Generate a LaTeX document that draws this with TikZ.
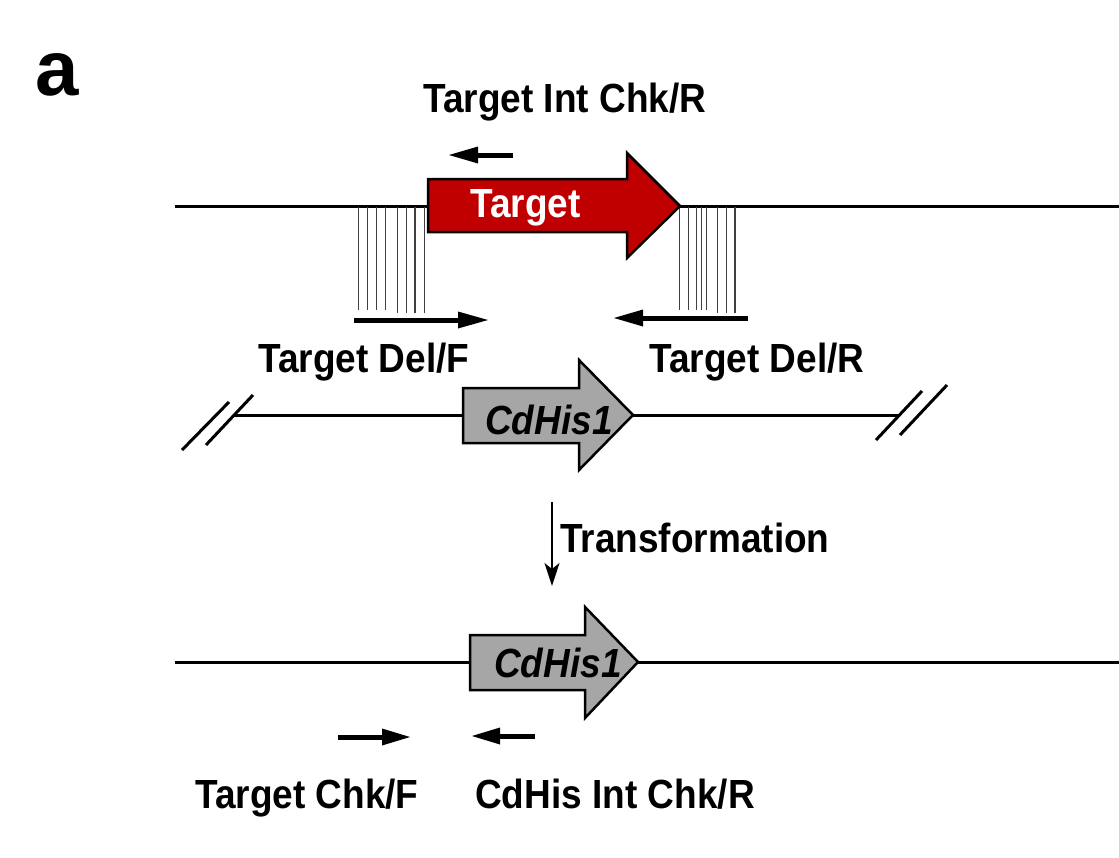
\documentclass[tikz,border=0pt]{standalone}
\usepackage{fontspec}
\setmainfont{Liberation Sans}
\usetikzlibrary{arrows.meta}
\definecolor{tred}{RGB}{192,0,0}
\definecolor{ggray}{RGB}{166,166,166}
\newcommand\tallt[1]{\scalebox{1}[1.1]{#1}}
\begin{document}
\begin{tikzpicture}[x=1pt,y=-1pt,
  lbl/.style={anchor=base west,inner sep=0pt,font=\bfseries\fontsize{37}{40}\selectfont},
  genelbl/.style={anchor=base west,inner sep=0pt,font=\bfseries\itshape\fontsize{37}{40}\selectfont},
  backbone/.style={line width=3pt},
  genebox/.style={line width=2.5pt,line join=miter},
  hatch/.style={line width=1.1pt,black!75},
  slash/.style={line width=3pt},
  primerline/.style={line width=5pt},
  primerhead/.style={fill=black,draw=none}]
\useasboundingbox (0,0) rectangle (1119,857);

% panel letter
\node[anchor=base west,inner sep=0pt,font=\bfseries\fontsize{78}{80}\selectfont] (panel) at (35,95) {a};

% ---- top: target locus ----
\coordinate (tl) at (175,206);
\coordinate (tr) at (1119,206);
\draw[backbone] (tl) -- (tr);
% homology hatch left
\foreach \x in {358.3,367.3,376.7,385.7} \draw[hatch] (\x,207) -- (\x,310);
\foreach \x in {397.7,406.3,415,424.3} \draw[hatch] (\x,207) -- (\x,313);
% homology hatch right
\foreach \x in {679.3,688.3,696.7,701.7,706.7} \draw[hatch] (\x,207) -- (\x,310);
\foreach \x in {717.7,726.7,735} \draw[hatch] (\x,207) -- (\x,313);
% red target arrow
\draw[genebox,fill=tred] (428,179) -- (627,179) -- (627,153) -- (680,206) -- (627,258) -- (627,232) -- (428,232) -- cycle;
\node[lbl,text=white] (target) at (470,217) {\tallt{Target}};

% primers top
\coordinate (ir1) at (513,155); \coordinate (ir2) at (478,155);
\draw[primerline] (ir1) -- (ir2);
\fill[primerhead] (478,146.5) -- (449,155) -- (478,163.5) -- cycle;
\coordinate (df1) at (354,320); \coordinate (df2) at (459,320);
\draw[primerline] (df1) -- (df2);
\fill[primerhead] (458,311.5) -- (488,320) -- (458,328.5) -- cycle;
\coordinate (dr1) at (748,318); \coordinate (dr2) at (642,318);
\draw[primerline] (dr1) -- (dr2);
\fill[primerhead] (643,309.5) -- (614,318) -- (643,326.5) -- cycle;

\node[lbl] (tIntR) at (423,112) {\tallt{Target Int Chk/R}};
\node[lbl] (tDelF) at (258,372) {\tallt{Target Del/F}};
\node[lbl] (tDelR) at (649,372) {\tallt{Target Del/R}};

% ---- middle: cassette ----
\coordinate (ml) at (234,415);
\coordinate (mr) at (900,415);
\draw[backbone] (ml) -- (mr);
\draw[slash] (182,450) -- (229,402);
\draw[slash] (206,445) -- (253,395);
\draw[slash] (876,440) -- (922,391);
\draw[slash] (900,435) -- (947,385);
\draw[genebox,fill=ggray] (463,388) -- (579,388) -- (579,360) -- (633,415) -- (579,470) -- (579,443) -- (463,443) -- cycle;
\node[genelbl] (his1) at (485,434) {\tallt{CdHis1}};

% transformation arrow
\coordinate (ta) at (552,502);
\coordinate (tb) at (552,586);
\draw[line width=1.5pt,-{Stealth[length=23pt,width=15pt,inset=6pt]}] (ta) -- (tb);
\node[lbl] (tTrans) at (560,552) {\tallt{Transformation}};

% ---- bottom: result ----
\coordinate (bl) at (175,662);
\coordinate (br) at (1119,662);
\draw[backbone] (bl) -- (br);
\draw[genebox,fill=ggray] (470,635) -- (585,635) -- (585,607) -- (638,662) -- (585,718) -- (585,690) -- (470,690) -- cycle;
\node[genelbl] (his2) at (494,677) {\tallt{CdHis1}};

\coordinate (cf1) at (338,737); \coordinate (cf2) at (383,737);
\draw[primerline] (cf1) -- (cf2);
\fill[primerhead] (382,728.5) -- (410,737) -- (382,745.5) -- cycle;
\coordinate (cr1) at (535,736); \coordinate (cr2) at (499,736);
\draw[primerline] (cr1) -- (cr2);
\fill[primerhead] (500,727.5) -- (472,736) -- (500,744.5) -- cycle;

\node[lbl] (tChkF) at (195,808) {\tallt{Target Chk/F}};
\node[lbl] (tCdR) at (475,808) {\tallt{CdHis Int Chk/R}};
\end{tikzpicture}
\end{document}
